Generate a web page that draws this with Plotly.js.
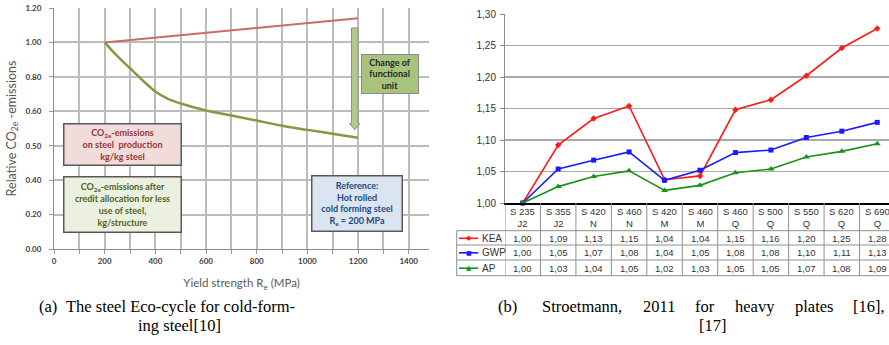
<!DOCTYPE html>
<html>
<head>
<meta charset="utf-8">
<script src="https://cdn.plot.ly/plotly-3.0.1.min.js"></script>
<style>
html,body{margin:0;padding:0;background:#fff;overflow:hidden;}
#wrap{position:relative;width:889px;height:345px;overflow:hidden;background:#fff;}
#left{position:absolute;left:0;top:0;width:440px;height:345px;}
#right{position:absolute;left:440px;top:0;width:460px;height:345px;}
</style>
</head>
<body>
<div id="wrap"><div id="left"></div><div id="right"></div></div>
<script>
// ---------- Chart (a) data ----------
const yieldProd = [200, 1200];
const co2Prod = [1.00, 1.14];
const yieldStruct = [200, 250, 300, 350, 400, 450, 500, 600, 700, 800, 900, 1000, 1100, 1200];
const co2Struct = [1.00, 0.92, 0.85, 0.78, 0.715, 0.672, 0.645, 0.605, 0.588, 0.573, 0.558, 0.546, 0.535, 0.523];
const leftTickVals = [0.00, 0.20, 0.40, 0.50, 0.60, 0.80, 1.00, 1.20];
const leftTickText = ['0.00', '0.20', '0.40', '0.50', '0.60', '0.80', '1.00', '1.20'];
const xTickVals = [0, 200, 400, 600, 800, 1000, 1200, 1400];

// ---------- Chart (b) data ----------
const grades = ['S 235', 'S 355', 'S 420', 'S 460', 'S 420', 'S 460', 'S 460', 'S 500', 'S 550', 'S 620', 'S 690'];
const deliveries = ['J2', 'J2', 'N', 'N', 'M', 'M', 'Q', 'Q', 'Q', 'Q', 'Q'];
const kea = [1.00, 1.092, 1.134, 1.154, 1.037, 1.043, 1.148, 1.164, 1.202, 1.246, 1.277];
const gwp = [1.00, 1.054, 1.068, 1.081, 1.036, 1.052, 1.080, 1.084, 1.104, 1.114, 1.128];
const ap  = [1.00, 1.026, 1.042, 1.051, 1.020, 1.028, 1.048, 1.054, 1.073, 1.082, 1.094];
const seriesNames = ['KEA', 'GWP', 'AP'];

const CAP_FONT = '"Liberation Serif", serif';
const CAP_SIZE = 16.5;

// map a label value of chart (a) to its (evenly spaced) gridline position
function toPos(v) {
  for (let i = 0; i < leftTickVals.length - 1; i++) {
    const a = leftTickVals[i], b = leftTickVals[i + 1];
    if (v >= a && v <= b) return i + (v - a) / (b - a);
  }
  return v < leftTickVals[0] ? 0 : leftTickVals.length - 1;
}

// justify the words of a caption line between two pixel edges
function justify(words, x0, x1) {
  const ctx = document.createElement('canvas').getContext('2d');
  ctx.font = CAP_SIZE + 'px "Liberation Serif"';
  const w = words.map(t => ctx.measureText(t).width);
  const gap = (x1 - x0 - w.reduce((a, b) => a + b, 0)) / (words.length - 1);
  let x = x0;
  return words.map((t, i) => { const p = x; x += w[i] + gap; return p; });
}

// ---------- Left figure ----------
(function () {
  const F = 'Lato, "Open Sans", sans-serif';
  const gridC = '#bcbcbc';
  const L = {l: 54, r: 11, t: 8, b: 96};
  const plotW = 440 - L.l - L.r, plotH = 345 - L.t - L.b;
  const px = a => (a - L.l) / plotW;
  const py = a => (345 - L.b - a) / plotH;
  const capF = {family: CAP_FONT, size: CAP_SIZE, color: '#000'};

  const traces = [
    {x: yieldProd, y: co2Prod.map(toPos), mode: 'lines', line: {color: '#cd6b69', width: 2}, hoverinfo: 'skip'},
    {x: yieldStruct, y: co2Struct.map(toPos), mode: 'lines', line: {color: '#839a45', width: 2.5, shape: 'spline', smoothing: 1}, hoverinfo: 'skip'}
  ];
  const boxFont = (c) => ({family: F, size: 9, color: c, weight: 'bold'});
  const annotations = [
    {xref: 'x', yref: 'y', x: 271, y: 3.03, width: 114, height: 38, showarrow: false,
     text: 'CO<sub>2e</sub>-emissions<br>on steel  production<br>kg/kg steel',
     bgcolor: '#f2dcdb', bordercolor: '#595959', borderwidth: 1.5, borderpad: 1, font: boxFont('#943634')},
    {xref: 'x', yref: 'y', x: 271, y: 1.29, width: 114, height: 52, showarrow: false,
     text: 'CO<sub>2e</sub>-emissions after<br>credit allocation for less<br>use of steel,<br>kg/structure',
     bgcolor: '#ebf1de', bordercolor: '#595959', borderwidth: 1.5, borderpad: 1, font: boxFont('#4f6228')},
    {xref: 'x', yref: 'y', x: 1197, y: 1.315, width: 87, height: 52, showarrow: false,
     text: 'Reference:<br>Hot rolled<br>cold forming steel<br>R<sub>e</sub> = 200 MPa',
     bgcolor: '#dbe5f1', bordercolor: '#595959', borderwidth: 1.5, borderpad: 1, font: boxFont('#1f497d')},
    {xref: 'x', yref: 'y', x: 1325, y: 5.086, width: 54, height: 36, showarrow: false,
     text: 'Change of<br>functional<br>unit',
     bgcolor: '#a8c37d', bordercolor: '#8a8a8a', borderwidth: 1, borderpad: 1, font: boxFont('#262626')},
    {xref: 'paper', yref: 'paper', x: px(37), y: py(306), xanchor: 'left', yanchor: 'middle', showarrow: false, text: '(a)', font: capF},
    {xref: 'paper', yref: 'paper', x: px(180), y: py(306), xanchor: 'center', yanchor: 'middle', showarrow: false,
     text: 'The steel Eco-cycle for cold-form-', font: capF},
    {xref: 'paper', yref: 'paper', x: px(179), y: py(325), xanchor: 'center', yanchor: 'middle', showarrow: false,
     text: 'ing steel[10]', font: capF}
  ];
  const shapes = [
    {type: 'path', xref: 'x', yref: 'y',
     path: 'M1174,6.42 L1200,6.42 L1200,3.64 L1207,3.64 L1187,3.465 L1167,3.64 L1174,3.64 Z',
     fillcolor: '#b3c98c', line: {color: '#8c8c8c', width: 1}, layer: 'above'}
  ];
  const layout = {
    width: 440, height: 345, margin: L, paper_bgcolor: '#fff', plot_bgcolor: '#fff',
    showlegend: false, font: {family: F},
    xaxis: {range: [0, 1480], tickvals: xTickVals, showgrid: true, gridcolor: gridC, gridwidth: 2,
      minor: {dtick: 100, tick0: 0, showgrid: true, gridcolor: gridC, gridwidth: 2, ticks: 'outside', ticklen: 4, tickcolor: '#9a9a9a'},
      zeroline: false, showline: true, linecolor: '#8c8c8c', linewidth: 1, ticks: 'outside', ticklen: 4, tickcolor: '#9a9a9a',
      tickfont: {family: F, size: 8, color: '#404040', weight: 'bold'},
      title: {text: 'Yield strength R<sub>e</sub> (MPa)', font: {family: F, size: 11.5, color: '#595959'}, standoff: 14}},
    yaxis: {range: [0, 7], tickvals: leftTickVals.map((v, i) => i), ticktext: leftTickText,
      showgrid: true, gridcolor: gridC, gridwidth: 2,
      zeroline: false, showline: true, linecolor: '#8c8c8c', linewidth: 1, ticks: 'outside', ticklen: 4, tickcolor: '#9a9a9a',
      tickfont: {family: F, size: 8, color: '#404040', weight: 'bold'}, ticklabelstandoff: 6,
      title: {text: 'Relative CO<sub>2e</sub> -emissions', font: {family: F, size: 12.5, color: '#595959'}, standoff: 6}},
    annotations: annotations, shapes: shapes
  };
  Plotly.newPlot('left', traces, layout, {staticPlot: true, displayModeBar: false});
})();

// ---------- Right figure ----------
(function () {
  const F = '"Liberation Sans", Arial, sans-serif';
  const M = {l: 65, r: 5, t: 14, b: 142};
  const plotW = 460 - M.l - M.r, plotH = 345 - M.t - M.b;
  const bottom = 345 - M.b;
  const px = a => (a - 440 - M.l) / plotW;
  const py = a => (bottom - a) / plotH;
  const colors = ['#ff1a1a', '#1a1aff', '#199119'];
  const symbols = ['diamond', 'square', 'triangle-up'];
  const glyphs = ['\u25C6', '\u25A0', '\u25B2'];
  const data = [kea, gwp, ap];
  const idx = grades.map((g, i) => i);
  const fmt = v => v.toFixed(2).replace('.', ',');
  const capF = {family: CAP_FONT, size: CAP_SIZE, color: '#000'};

  const traces = data.map((d, s) => ({
    x: idx, y: d, name: seriesNames[s], mode: 'lines+markers',
    line: {color: colors[s], width: 1.6},
    marker: {symbol: symbols[s], size: s === 2 ? 6 : 5, color: colors[s]},
    cliponaxis: false, hoverinfo: 'skip'
  }));

  const tableTop = bottom, headBot = 230.7;
  const rowEdges = [230.7, 245, 260, 275.7];
  const rowCenters = [238.3, 252.8, 268.2];
  const legLeft = 456.7;
  const lineC = '#8f8f8f';
  const shapes = [];
  for (let k = 0; k <= grades.length; k++) {
    shapes.push({type: 'line', xref: 'x', yref: 'paper', x0: k - 0.5, x1: k - 0.5, y0: py(tableTop), y1: py(275.7),
      line: {color: lineC, width: 1}});
  }
  rowEdges.forEach(r => shapes.push({type: 'line', xref: 'paper', yref: 'paper', x0: px(legLeft), x1: 1.2, y0: py(r), y1: py(r),
    line: {color: lineC, width: 1}}));
  shapes.push({type: 'line', xref: 'paper', yref: 'paper', x0: px(legLeft), x1: px(legLeft), y0: py(headBot), y1: py(275.7),
    line: {color: lineC, width: 1}});
  rowCenters.forEach((c, s) => shapes.push({type: 'line', xref: 'paper', yref: 'paper', x0: px(459), x1: px(478.3), y0: py(c), y1: py(c),
    line: {color: colors[s], width: 1.6}}));

  const annotations = [];
  grades.forEach((g, i) => annotations.push({xref: 'x', yref: 'paper', x: i, y: py(217.8), showarrow: false,
    text: g + '<br>' + deliveries[i], font: {family: F, size: 9.5, color: '#333'}, xanchor: 'center', yanchor: 'middle'}));
  data.forEach((d, s) => {
    d.forEach((v, i) => annotations.push({xref: 'x', yref: 'paper', x: i, y: py(rowCenters[s]), showarrow: false,
      text: fmt(v), font: {family: F, size: 9.5, color: '#333'}, xanchor: 'center', yanchor: 'middle'}));
    annotations.push({xref: 'paper', yref: 'paper', x: px(468.7), y: py(rowCenters[s]), showarrow: false,
      text: glyphs[s], font: {family: 'DejaVu Sans', size: s === 1 ? 6 : 7, color: colors[s]}, xanchor: 'center', yanchor: 'middle'});
    annotations.push({xref: 'paper', yref: 'paper', x: px(479.5), y: py(rowCenters[s]), showarrow: false,
      text: seriesNames[s], font: {family: F, size: 10, color: '#333'}, xanchor: 'left', yanchor: 'middle'});
  });
  annotations.push({xref: 'paper', yref: 'paper', x: px(496), y: py(306), xanchor: 'left', yanchor: 'middle', showarrow: false, text: '(b)', font: capF});
  const capWords = ['Stroetmann,', '2011', 'for', 'heavy', 'plates', '[16],'];
  justify(capWords, 541, 884).forEach((x, i) => annotations.push({xref: 'paper', yref: 'paper', x: px(x), y: py(306),
    xanchor: 'left', yanchor: 'middle', showarrow: false, text: capWords[i], font: capF, borderpad: 0}));
  annotations.push({xref: 'paper', yref: 'paper', x: px(712.5), y: py(325), xanchor: 'center', yanchor: 'middle', showarrow: false, text: '[17]', font: capF});

  const layout = {
    width: 460, height: 345, margin: M, paper_bgcolor: '#fff', plot_bgcolor: '#fff',
    showlegend: false, separators: ',.', font: {family: F},
    xaxis: {range: [-0.5, grades.length - 0.5], showticklabels: false, showgrid: false, zeroline: false,
      showline: true, linecolor: '#000', linewidth: 1.5, ticks: ''},
    yaxis: {range: [1.0, 1.3], dtick: 0.05, tick0: 1.0, tickformat: '.2f', showgrid: true, gridcolor: '#a8a8a8', gridwidth: 1.2,
      zeroline: false, showline: true, linecolor: '#8c8c8c', linewidth: 1, ticks: 'outside', ticklen: 4, tickcolor: '#8c8c8c',
      tickfont: {family: F, size: 10, color: '#333'}, ticklabelstandoff: 2},
    shapes: shapes, annotations: annotations
  };
  Plotly.newPlot('right', traces, layout, {staticPlot: true, displayModeBar: false});
})();
</script>
</body>
</html>
